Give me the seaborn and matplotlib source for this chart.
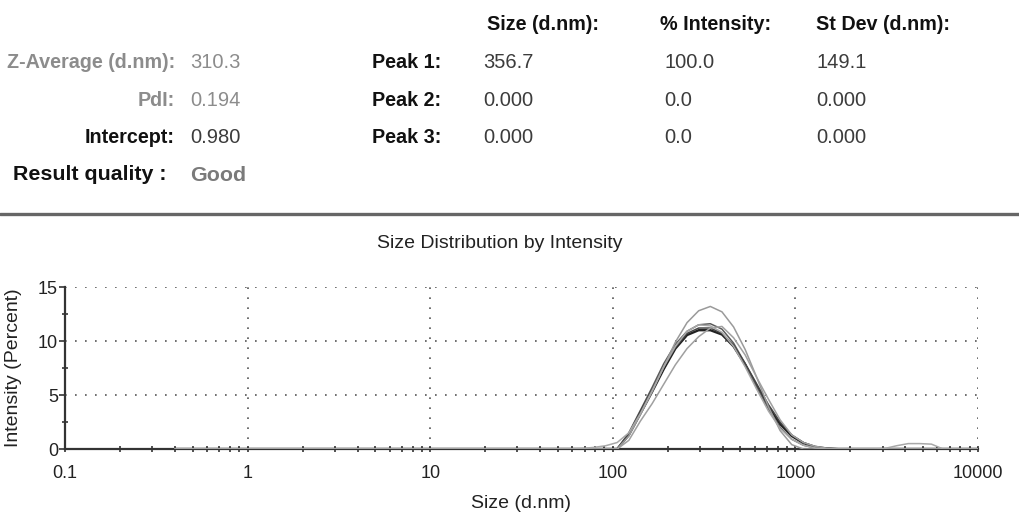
import numpy as np
import pandas as pd
import matplotlib
matplotlib.use("Agg")
import matplotlib.pyplot as plt
from matplotlib.ticker import FixedLocator, FixedFormatter, NullFormatter, LogLocator
import seaborn as sns

# ---------------- data ----------------
sizes = [0.4, 58.77, 68.06, 78.82, 91.28, 105.7, 122.4, 141.8, 164.2, 190.1, 220.2,
         255.0, 295.3, 342.0, 396.1, 458.7, 531.2, 615.1, 712.4, 825.0, 955.4,
         1106, 1281, 1484, 1718, 1990, 2305, 2669, 3091, 3580, 4145, 4801, 5560,
         6439, 7456, 8635, 10000]

run_a = [0, 0, 0, 0, 0, 0, 1.3, 3.3, 5.3, 7.4, 9.3, 10.55, 11.0, 11.0, 10.6, 9.5,
         7.8, 5.8, 3.9, 2.3, 1.2, 0.55, 0.2, 0.05, 0, 0, 0, 0, 0, 0, 0, 0, 0, 0, 0, 0, 0]
run_e = [0, 0, 0, 0, 0, 0, 1.5, 3.6, 5.7, 7.9, 9.7, 10.9, 11.5, 11.6, 11.1, 9.8,
         7.9, 5.7, 3.7, 2.0, 0.9, 0.35, 0.1, 0, 0, 0, 0, 0, 0, 0, 0, 0, 0, 0, 0, 0, 0]
run_f = [0, 0, 0, 0, 0, 0, 1.4, 3.5, 5.5, 7.6, 9.4, 10.7, 11.2, 11.2, 10.7, 9.6,
         7.9, 6.0, 4.1, 2.5, 1.3, 0.6, 0.2, 0.05, 0, 0, 0, 0, 0, 0, 0, 0, 0, 0, 0, 0, 0]
run_b = [0, 0, 0, 0, 0, 0, 1.2, 3.2, 5.3, 7.6, 9.9, 11.7, 12.8, 13.2, 12.7, 11.3,
         9.2, 6.6, 3.9, 1.7, 0.4, 0, 0, 0, 0, 0, 0, 0, 0, 0, 0, 0, 0, 0, 0, 0, 0]
run_c = [0, 0, 0, 0, 0, 0, 0.8, 2.6, 4.2, 6.0, 7.8, 9.3, 10.4, 11.2, 11.35, 10.3,
         8.7, 6.6, 4.6, 2.7, 1.3, 0.6, 0.25, 0.08, 0, 0, 0, 0, 0, 0, 0, 0, 0, 0, 0, 0, 0]
run_d = [0, 0, 0.05, 0.15, 0.3, 0.6, 1.5, 3.3, 5.4, 7.6, 9.5, 10.9, 11.5, 11.4, 10.8,
         9.5, 7.6, 5.5, 3.5, 1.9, 0.9, 0.35, 0.1, 0, 0, 0, 0, 0, 0.05, 0.3, 0.5, 0.5,
         0.45, 0, 0, 0, 0]

run_names = ["Record 1", "Record 2", "Record 3", "Record 4", "Record 5", "Record 6"]
run_values = [run_a, run_e, run_f, run_b, run_c, run_d]

x_ticks = [0.1, 1, 10, 100, 1000, 10000]
x_tick_labels = ["0.1", "1", "10", "100", "1000", "10000"]
y_ticks = [0, 5, 10, 15]

summary_labels = ["Z-Average (d.nm):", "PdI:", "Intercept:"]
summary_values = ["310.3", "0.194", "0.980"]
peak_labels = ["Peak 1:", "Peak 2:", "Peak 3:"]
peak_headers = ["Size (d.nm):", "% Intensity:", "St Dev (d.nm):"]
peak_sizes = ["356.7", "0.000", "0.000"]
peak_intensity = ["100.0", "0.0", "0.0"]
peak_stdev = ["149.1", "0.000", "0.000"]
quality_label = "Result quality :"
quality_value = "Good"

# ---------------- style ----------------
sns.set_style("white")
plt.rcParams["font.family"] = ["Liberation Sans", "DejaVu Sans"]

W, H = 1020, 515
fig = plt.figure(figsize=(W / 100, H / 100), dpi=100)

def fx(px):
    return px / W

def fy(py):
    return 1 - py / H

# ---------------- header table ----------------
gray_lbl = "#8c8c8c"
dark_val = "#3c3c3c"
rows_y = [63, 100, 138]
sum_colors = [(gray_lbl, gray_lbl), (gray_lbl, gray_lbl), ("#111111", dark_val)]
for (lbl, val, y, cols) in zip(summary_labels, summary_values, rows_y, sum_colors):
    fig.text(fx(175), fy(y), lbl, ha="right", va="center", fontsize=14.2,
             fontweight="bold", color=cols[0])
    fig.text(fx(190), fy(y), val, ha="left", va="center", fontsize=14.5, color=cols[1])

fig.text(fx(167), fy(174), quality_label, ha="right", va="center", fontsize=15.4,
         fontweight="bold", color="#111111")
fig.text(fx(190), fy(175), quality_value, ha="left", va="center", fontsize=15.4,
         fontweight="bold", color="#7a7a7a")

col_x = [487, 660, 816]
for hx, h in zip(col_x, peak_headers):
    fig.text(fx(hx), fy(24), h, ha="left", va="center", fontsize=14.2,
             fontweight="bold", color="#111111")
val_x = [483, 664, 816]
for i, y in enumerate(rows_y):
    fig.text(fx(372), fy(y), peak_labels[i], ha="left", va="center", fontsize=14.2,
             fontweight="bold", color="#111111")
    for vx, col in zip(val_x, [peak_sizes, peak_intensity, peak_stdev]):
        fig.text(fx(vx), fy(y), col[i], ha="left", va="center", fontsize=14.5,
                 color=dark_val)

# separator line
fig.add_artist(plt.Line2D([0, 1], [fy(213.5), fy(213.5)], color="#666666",
                          lw=2.4, transform=fig.transFigure))

# title
fig.text(fx(500), fy(244), "Size Distribution by Intensity", ha="center",
         va="center", fontsize=14, color="#222222")

# ---------------- chart ----------------
ax = fig.add_axes([fx(65), fy(449), (978 - 65) / W, (449 - 287) / H])

df = pd.concat([pd.DataFrame({"size": sizes, "intensity": v, "run": n})
                for n, v in zip(run_names, run_values)], ignore_index=True)

palette = {"Record 1": "#222222", "Record 2": "#5a5a5a", "Record 3": "#444444",
           "Record 4": "#9a9a9a", "Record 5": "#a0a0a0", "Record 6": "#a8a8a8"}
widths = {"Record 1": 1.7, "Record 2": 1.1, "Record 3": 1.1,
          "Record 4": 1.1, "Record 5": 1.1, "Record 6": 1.1}
for n in run_names:
    sns.lineplot(data=df[df["run"] == n], x="size", y="intensity", ax=ax,
                 color=palette[n], lw=widths[n], legend=False, zorder=3,
                 estimator=None, sort=False)

ax.set_xscale("log")
ax.set_xlim(0.1, 10000)
ax.set_ylim(0, 15)

ax.xaxis.set_major_locator(FixedLocator(x_ticks))
ax.xaxis.set_major_formatter(FixedFormatter(x_tick_labels))
ax.xaxis.set_minor_locator(LogLocator(base=10, subs=(2, 3, 4, 5, 6, 7, 8, 9), numticks=100))
ax.xaxis.set_minor_formatter(NullFormatter())
ax.yaxis.set_major_locator(FixedLocator(y_ticks))
ax.yaxis.set_minor_locator(FixedLocator([2.5, 7.5, 12.5]))

ax.grid(True, which="major", color="#555555", lw=1.2, linestyle=(0, (1, 5)))
ax.set_axisbelow(True)

for s in ["top", "right"]:
    ax.spines[s].set_visible(False)
for s in ["left", "bottom"]:
    ax.spines[s].set_color("#333333")
    ax.spines[s].set_linewidth(1.6)

ax.tick_params(axis="x", which="both", bottom=True, direction="inout", length=5,
               width=1.2, color="#333333", labelsize=13, pad=9, labelcolor="#222222")
ax.tick_params(axis="x", which="minor", length=4)
ax.tick_params(axis="y", which="major", left=True, direction="out", length=4, width=1.2,
               color="#333333", labelsize=13, pad=1, labelcolor="#222222")
ax.tick_params(axis="y", which="minor", left=True, direction="inout", length=5,
               width=1.2, color="#333333")

ax.set_xlabel("Size (d.nm)", fontsize=14, color="#222222")
ax.set_ylabel("Intensity (Percent)", fontsize=14, color="#222222")
ax.xaxis.set_label_coords(0.5, (449 - 503) / 162)
ax.yaxis.set_label_coords((14 - 65) / 913, 0.5)
ax.xaxis.label.set_va("center")
ax.yaxis.label.set_va("center")

fig.savefig("out.png", dpi=100)
